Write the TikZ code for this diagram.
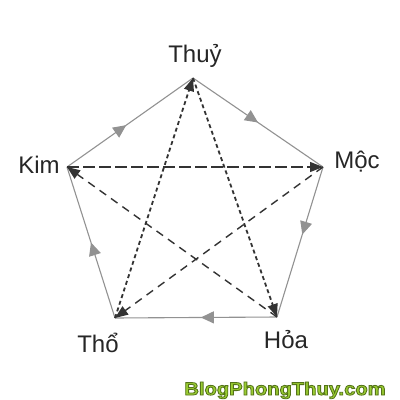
\documentclass[tikz,border=0pt]{standalone}
\usepackage{fontspec}
\setmainfont{Liberation Sans}
\usetikzlibrary{arrows.meta,decorations.markings}
\definecolor{edgegray}{HTML}{929292}
\definecolor{stargray}{HTML}{333333}
\definecolor{wmgreen}{HTML}{9ACD32}
\newcommand{\outlinedtext}[1]{\special{pdf:literal direct 2 Tr 0.8 w 0.33 0.45 0.1 RG}#1\special{pdf:literal direct 0 Tr}}
\tikzset{
  lbl/.style={anchor=base, inner sep=0pt, font=\fontsize{24}{24}\selectfont, text=black!85},
  cycleedge/.style={draw=edgegray, line width=1.1pt,
    postaction={decorate},
    decoration={markings, mark=at position #1 with {\arrow[edgegray]{Triangle[length=13pt,width=12pt]}}}},
  starline/.style={draw=stargray, line width=1.4pt, -{Triangle[length=13pt,width=10pt]}},
  longdash/.style={dash pattern=on 12pt off 4pt},
  middash/.style={dash pattern=on 8pt off 6pt},
  shortdash/.style={dash pattern=on 4pt off 3pt, line width=1.8pt},
}
\begin{document}
\begin{tikzpicture}[x=1pt,y=-1pt]
\useasboundingbox (0,0) rectangle (400,400);
\fill[white] (0,0) rectangle (400,400);
\coordinate (thuy) at (193,78);
\coordinate (moc) at (323,167);
\coordinate (hoa) at (277,317);
\coordinate (tho) at (115,318);
\coordinate (kim) at (67,167);
% pentagon cycle
\path[cycleedge=0.47] (kim) -- (thuy);
\path[cycleedge=0.5] (thuy) -- (moc);
\path[cycleedge=0.45] (moc) -- (hoa);
\path[cycleedge=0.47] (hoa) -- (tho);
\path[cycleedge=0.5] (tho) -- (kim);
% inner star
\draw[starline,longdash] (kim) -- (moc);
\draw[starline,middash] (moc) -- (tho);
\draw[starline,shortdash] (tho) -- (thuy);
\draw[starline,shortdash] (thuy) -- (hoa);
\draw[starline,middash] (hoa) -- (kim);
% labels
\node[lbl] (lthuy) at (195,62) {Thuỷ};
\node[lbl] (lkim) at (39,173) {Kim};
\node[lbl] (lmoc) at (357,168) {Mộc};
\node[lbl] (ltho) at (98,352) {Thổ};
\node[lbl] (lhoa) at (286,348) {Hỏa};
% watermark
\node[anchor=base, inner sep=0pt, text=wmgreen, xscale=1.12,
  font=\bfseries\fontsize{18}{18}\selectfont] (wm) at (285,395) {\outlinedtext{BlogPhongThuy.com}};
\end{tikzpicture}
\end{document}
